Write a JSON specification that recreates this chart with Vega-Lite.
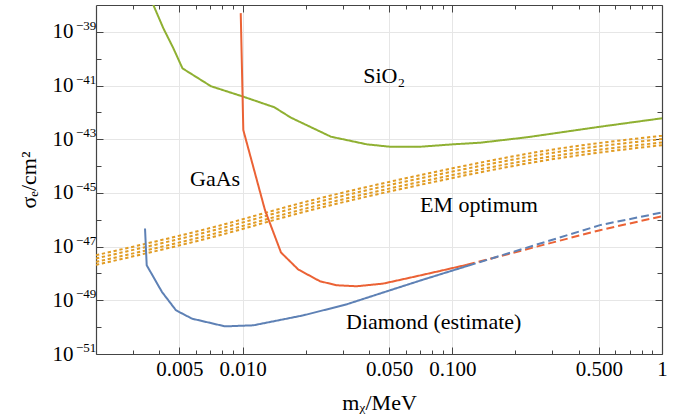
{
  "$schema": "https://vega.github.io/schema/vega-lite/v6.json",
  "width": 566,
  "height": 349,
  "autosize": {"type": "none"},
  "padding": {"left": 96, "top": 5, "right": 27, "bottom": 64},
  "background": "white",
  "config": {"view": {"stroke": null}, "font": "Liberation Serif"},
  "datasets": {
    "em": [
      {"id": "EM1", "curve": "EM optimum", "x": 0.002, "y": 4.79e-48},
      {"id": "EM1", "curve": "EM optimum", "x": 0.00699, "y": 4.90e-47},
      {"id": "EM1", "curve": "EM optimum", "x": 0.02096, "y": 5.13e-46},
      {"id": "EM1", "curve": "EM optimum", "x": 0.0783, "y": 5.50e-45},
      {"id": "EM1", "curve": "EM optimum", "x": 0.2924, "y": 3.98e-44},
      {"id": "EM1", "curve": "EM optimum", "x": 1.0, "y": 1.35e-43},
      {"id": "EM2", "curve": "EM optimum", "x": 0.002, "y": 3.63e-48},
      {"id": "EM2", "curve": "EM optimum", "x": 0.00699, "y": 3.72e-47},
      {"id": "EM2", "curve": "EM optimum", "x": 0.02096, "y": 3.89e-46},
      {"id": "EM2", "curve": "EM optimum", "x": 0.0783, "y": 4.17e-45},
      {"id": "EM2", "curve": "EM optimum", "x": 0.2924, "y": 3.02e-44},
      {"id": "EM2", "curve": "EM optimum", "x": 1.0, "y": 1.02e-43},
      {"id": "EM3", "curve": "EM optimum", "x": 0.002, "y": 2.69e-48},
      {"id": "EM3", "curve": "EM optimum", "x": 0.00699, "y": 2.75e-47},
      {"id": "EM3", "curve": "EM optimum", "x": 0.02096, "y": 2.88e-46},
      {"id": "EM3", "curve": "EM optimum", "x": 0.0783, "y": 3.09e-45},
      {"id": "EM3", "curve": "EM optimum", "x": 0.2924, "y": 2.24e-44},
      {"id": "EM3", "curve": "EM optimum", "x": 1.0, "y": 7.59e-44},
      {"id": "EM4", "curve": "EM optimum", "x": 0.002, "y": 2.09e-48},
      {"id": "EM4", "curve": "EM optimum", "x": 0.00699, "y": 2.14e-47},
      {"id": "EM4", "curve": "EM optimum", "x": 0.02096, "y": 2.24e-46},
      {"id": "EM4", "curve": "EM optimum", "x": 0.0783, "y": 2.40e-45},
      {"id": "EM4", "curve": "EM optimum", "x": 0.2924, "y": 1.74e-44},
      {"id": "EM4", "curve": "EM optimum", "x": 1.0, "y": 6.03e-44}
    ],
    "curves": [
      {"id": "SiO2", "curve": "SiO2", "part": "calculated", "x": 0.00375, "y": 1.02e-38},
      {"id": "SiO2", "curve": "SiO2", "part": "calculated", "x": 0.004188, "y": 1.37e-39},
      {"id": "SiO2", "curve": "SiO2", "part": "calculated", "x": 0.004674, "y": 2.47e-40},
      {"id": "SiO2", "curve": "SiO2", "part": "calculated", "x": 0.00517, "y": 4.35e-41},
      {"id": "SiO2", "curve": "SiO2", "part": "calculated", "x": 0.00707, "y": 9.42e-42},
      {"id": "SiO2", "curve": "SiO2", "part": "calculated", "x": 0.01008, "y": 3.85e-42},
      {"id": "SiO2", "curve": "SiO2", "part": "calculated", "x": 0.01417, "y": 1.55e-42},
      {"id": "SiO2", "curve": "SiO2", "part": "calculated", "x": 0.01702, "y": 6.34e-43},
      {"id": "SiO2", "curve": "SiO2", "part": "calculated", "x": 0.0264, "y": 1.24e-43},
      {"id": "SiO2", "curve": "SiO2", "part": "calculated", "x": 0.0391, "y": 6.46e-44},
      {"id": "SiO2", "curve": "SiO2", "part": "calculated", "x": 0.0505, "y": 5.25e-44},
      {"id": "SiO2", "curve": "SiO2", "part": "calculated", "x": 0.0702, "y": 5.25e-44},
      {"id": "SiO2", "curve": "SiO2", "part": "calculated", "x": 0.1008, "y": 6.46e-44},
      {"id": "SiO2", "curve": "SiO2", "part": "calculated", "x": 0.1356, "y": 7.41e-44},
      {"id": "SiO2", "curve": "SiO2", "part": "calculated", "x": 0.2264, "y": 1.18e-43},
      {"id": "SiO2", "curve": "SiO2", "part": "calculated", "x": 0.506, "y": 2.92e-43},
      {"id": "SiO2", "curve": "SiO2", "part": "calculated", "x": 1.0, "y": 6.03e-43},
      {"id": "GaAs-c", "curve": "GaAs", "part": "calculated", "x": 0.0098, "y": 4.99e-39},
      {"id": "GaAs-c", "curve": "GaAs", "part": "calculated", "x": 0.01008, "y": 2.20e-43},
      {"id": "GaAs-c", "curve": "GaAs", "part": "calculated", "x": 0.01279, "y": 2.28e-46},
      {"id": "GaAs-c", "curve": "GaAs", "part": "calculated", "x": 0.01525, "y": 6.03e-48},
      {"id": "GaAs-c", "curve": "GaAs", "part": "calculated", "x": 0.01844, "y": 1.40e-48},
      {"id": "GaAs-c", "curve": "GaAs", "part": "calculated", "x": 0.0234, "y": 5.12e-49},
      {"id": "GaAs-c", "curve": "GaAs", "part": "calculated", "x": 0.0281, "y": 3.63e-49},
      {"id": "GaAs-c", "curve": "GaAs", "part": "calculated", "x": 0.035, "y": 3.33e-49},
      {"id": "GaAs-c", "curve": "GaAs", "part": "calculated", "x": 0.0469, "y": 4.20e-49},
      {"id": "GaAs-c", "curve": "GaAs", "part": "calculated", "x": 0.0652, "y": 7.41e-49},
      {"id": "GaAs-c", "curve": "GaAs", "part": "calculated", "x": 0.0874, "y": 1.24e-48},
      {"id": "GaAs-c", "curve": "GaAs", "part": "calculated", "x": 0.1175, "y": 2.11e-48},
      {"id": "GaAs-e", "curve": "GaAs", "part": "extrapolated", "x": 0.1175, "y": 2.11e-48},
      {"id": "GaAs-e", "curve": "GaAs", "part": "extrapolated", "x": 0.506, "y": 4.09e-47},
      {"id": "GaAs-e", "curve": "GaAs", "part": "extrapolated", "x": 1.0, "y": 1.36e-46},
      {"id": "Diamond-c", "curve": "Diamond", "part": "calculated", "x": 0.003426, "y": 4.73e-47},
      {"id": "Diamond-c", "curve": "Diamond", "part": "calculated", "x": 0.00349, "y": 2.02e-48},
      {"id": "Diamond-c", "curve": "Diamond", "part": "calculated", "x": 0.004128, "y": 2.04e-49},
      {"id": "Diamond-c", "curve": "Diamond", "part": "calculated", "x": 0.004814, "y": 4.24e-50},
      {"id": "Diamond-c", "curve": "Diamond", "part": "calculated", "x": 0.00574, "y": 2.07e-50},
      {"id": "Diamond-c", "curve": "Diamond", "part": "calculated", "x": 0.008246, "y": 1.07e-50},
      {"id": "Diamond-c", "curve": "Diamond", "part": "calculated", "x": 0.01125, "y": 1.17e-50},
      {"id": "Diamond-c", "curve": "Diamond", "part": "calculated", "x": 0.01948, "y": 2.75e-50},
      {"id": "Diamond-c", "curve": "Diamond", "part": "calculated", "x": 0.03138, "y": 7.10e-50},
      {"id": "Diamond-c", "curve": "Diamond", "part": "calculated", "x": 0.05046, "y": 2.36e-49},
      {"id": "Diamond-c", "curve": "Diamond", "part": "calculated", "x": 0.07276, "y": 5.92e-49},
      {"id": "Diamond-c", "curve": "Diamond", "part": "calculated", "x": 0.1188, "y": 1.94e-48},
      {"id": "Diamond-e", "curve": "Diamond", "part": "extrapolated", "x": 0.1188, "y": 1.94e-48},
      {"id": "Diamond-e", "curve": "Diamond", "part": "extrapolated", "x": 0.506, "y": 6.31e-47},
      {"id": "Diamond-e", "curve": "Diamond", "part": "extrapolated", "x": 1.0, "y": 1.87e-46}
    ],
    "labels": [
      {"text": "SiO₂", "x": 0.0473, "y": 2.29e-41},
      {"text": "GaAs", "x": 0.00739, "y": 3.27e-45},
      {"text": "EM optimum", "x": 0.134, "y": 3.51e-46},
      {"text": "Diamond (estimate)", "x": 0.0816, "y": 1.55e-50}
    ],
    "exponents": [
      {"exp": "−39", "x": 0.002, "y": 1e-39},
      {"exp": "−41", "x": 0.002, "y": 1e-41},
      {"exp": "−43", "x": 0.002, "y": 1e-43},
      {"exp": "−45", "x": 0.002, "y": 1e-45},
      {"exp": "−47", "x": 0.002, "y": 1e-47},
      {"exp": "−49", "x": 0.002, "y": 1e-49},
      {"exp": "−51", "x": 0.002, "y": 1e-51}
    ]
  },
  "layer": [
    {
      "data": {"name": "em"},
      "mark": {"type": "line", "clip": true, "strokeWidth": 2, "strokeCap": "butt", "strokeDash": [3.3, 2.7], "interpolate": "monotone"},
      "encoding": {
        "x": {
          "field": "x", "type": "quantitative",
          "scale": {"type": "log", "domain": [0.002, 1], "nice": false},
          "axis": {
            "orient": "bottom",
            "values": [0.003, 0.004, 0.005, 0.006, 0.007, 0.008, 0.009, 0.01, 0.02, 0.03, 0.04, 0.05, 0.06, 0.07, 0.08, 0.09, 0.1, 0.2, 0.3, 0.4, 0.5, 0.6, 0.7, 0.8, 0.9, 1],
            "labelExpr": "datum.value==1 ? '1' : (indexof([0.005,0.01,0.05,0.1,0.5], datum.value) >= 0 ? format(datum.value, '.3f') : '')",
            "labelFont": "Liberation Serif", "labelFontSize": 21, "labelColor": "black",
            "labelPadding": 11, "labelOverlap": false, "labelFlush": false, "labelBound": false,
            "tickSize": {"condition": {"test": "indexof([0.005,0.01,0.05,0.1,0.5,1], datum.value) >= 0", "value": -7}, "value": -4},
            "tickColor": "#444", "tickWidth": 1,
            "domain": true, "domainColor": "#444", "domainWidth": 1.2,
            "grid": true, "gridColor": "#e6e6e6", "gridWidth": 1,
            "gridOpacity": {"condition": {"test": "indexof([0.005,0.01,0.05,0.1,0.5,1], datum.value) >= 0", "value": 1}, "value": 0},
            "title": "mᵪ/MeV", "titleFont": "Liberation Serif", "titleFontSize": 22, "titleFontWeight": "normal", "titleColor": "black", "titlePadding": 10
          }
        },
        "y": {
          "field": "y", "type": "quantitative",
          "scale": {"type": "log", "domain": [1e-51, 1e-38], "nice": false},
          "axis": {
            "orient": "left",
            "values": [1e-51, 1e-50, 1e-49, 1e-48, 1e-47, 1e-46, 1e-45, 1e-44, 1e-43, 1e-42, 1e-41, 1e-40, 1e-39],
            "labelExpr": "indexof([1e-51,1e-49,1e-47,1e-45,1e-43,1e-41,1e-39], datum.value) >= 0 ? '10' : ''",
            "labelFont": "Liberation Serif", "labelFontSize": 21, "labelColor": "black",
            "labelPadding": 30, "labelOverlap": false, "labelFlush": false, "labelBound": false,
            "tickSize": {"condition": {"test": "indexof([1e-51,1e-49,1e-47,1e-45,1e-43,1e-41,1e-39], datum.value) >= 0", "value": -7}, "value": -5},
            "tickColor": "#444", "tickWidth": 1,
            "domain": true, "domainColor": "#444", "domainWidth": 1.2,
            "grid": true, "gridColor": "#e6e6e6", "gridWidth": 1,
            "gridOpacity": {"condition": {"test": "indexof([1e-51,1e-49,1e-47,1e-45,1e-43,1e-41,1e-39], datum.value) >= 0", "value": 1}, "value": 0},
            "title": "σₑ/cm²", "titleFont": "Liberation Serif", "titleFontSize": 22, "titleFontWeight": "normal", "titleColor": "black", "titlePadding": 12
          }
        },
        "detail": {"field": "id"},
        "color": {"field": "curve", "type": "nominal", "legend": null,
          "scale": {"domain": ["Diamond", "EM optimum", "SiO2", "GaAs"], "range": ["#5E81B5", "#E19C24", "#8FB032", "#EB6235"]}}
      }
    },
    {
      "data": {"name": "curves"},
      "mark": {"type": "line", "clip": true, "strokeWidth": 2},
      "encoding": {
        "x": {"field": "x", "type": "quantitative", "scale": {"type": "log", "domain": [0.002, 1], "nice": false}, "axis": null},
        "y": {"field": "y", "type": "quantitative", "scale": {"type": "log", "domain": [1e-51, 1e-38], "nice": false}, "axis": null},
        "detail": {"field": "id"},
        "color": {"field": "curve", "type": "nominal", "legend": null,
          "scale": {"domain": ["Diamond", "EM optimum", "SiO2", "GaAs"], "range": ["#5E81B5", "#E19C24", "#8FB032", "#EB6235"]}},
        "strokeDash": {"field": "part", "type": "nominal", "legend": null,
          "scale": {"domain": ["calculated", "extrapolated"], "range": [[1, 0], [8, 4]]}}
      }
    },
    {
      "data": {"name": "exponents"},
      "mark": {"type": "text", "font": "Liberation Serif", "fontSize": 13, "align": "left", "baseline": "middle", "color": "black", "dx": -20, "dy": -6},
      "encoding": {
        "x": {"field": "x", "type": "quantitative", "scale": {"type": "log", "domain": [0.002, 1], "nice": false}, "axis": null},
        "y": {"field": "y", "type": "quantitative", "scale": {"type": "log", "domain": [1e-51, 1e-38], "nice": false}, "axis": null},
        "text": {"field": "exp", "type": "nominal"}
      }
    },
    {
      "data": {"name": "labels"},
      "mark": {"type": "text", "font": "Liberation Serif", "fontSize": 22, "align": "center", "baseline": "middle", "color": "black"},
      "encoding": {
        "x": {
          "field": "x", "type": "quantitative",
          "scale": {"type": "log", "domain": [0.002, 1], "nice": false},
          "axis": {
            "orient": "top",
            "values": [0.003, 0.004, 0.005, 0.006, 0.007, 0.008, 0.009, 0.01, 0.02, 0.03, 0.04, 0.05, 0.06, 0.07, 0.08, 0.09, 0.1, 0.2, 0.3, 0.4, 0.5, 0.6, 0.7, 0.8, 0.9, 1],
            "labels": false, "title": null, "grid": false,
            "tickSize": {"condition": {"test": "indexof([0.005,0.01,0.05,0.1,0.5,1], datum.value) >= 0", "value": -7}, "value": -4},
            "tickColor": "#444", "tickWidth": 1,
            "domain": true, "domainColor": "#444", "domainWidth": 1.2
          }
        },
        "y": {
          "field": "y", "type": "quantitative",
          "scale": {"type": "log", "domain": [1e-51, 1e-38], "nice": false},
          "axis": {
            "orient": "right",
            "values": [1e-51, 1e-50, 1e-49, 1e-48, 1e-47, 1e-46, 1e-45, 1e-44, 1e-43, 1e-42, 1e-41, 1e-40, 1e-39],
            "labels": false, "title": null, "grid": false,
            "tickSize": {"condition": {"test": "indexof([1e-51,1e-49,1e-47,1e-45,1e-43,1e-41,1e-39], datum.value) >= 0", "value": -7}, "value": -5},
            "tickColor": "#444", "tickWidth": 1,
            "domain": true, "domainColor": "#444", "domainWidth": 1.2
          }
        },
        "text": {"field": "text", "type": "nominal"}
      }
    }
  ],
  "resolve": {"axis": {"x": "independent", "y": "independent"}}
}
